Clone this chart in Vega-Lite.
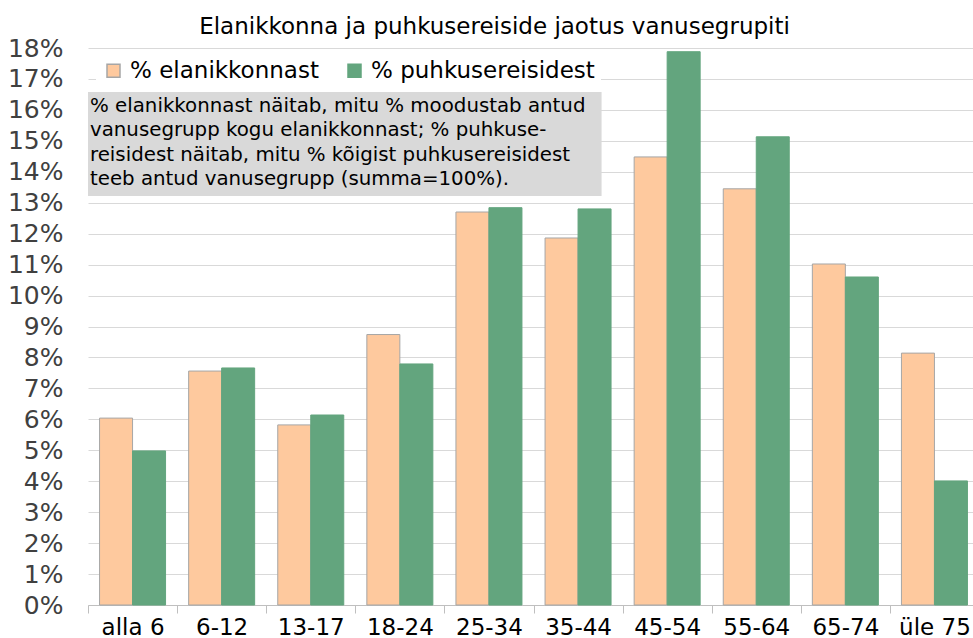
{
  "$schema": "https://vega.github.io/schema/vega-lite/v6.json",
  "autosize": {"type": "none"},
  "padding": {"left": 88, "top": 48, "right": 0, "bottom": 33},
  "width": 885,
  "height": 557,
  "background": "white",
  "config": {"view": {"stroke": null}, "font": "DejaVu Sans"},
  "title": {
    "text": "Elanikkonna ja puhkusereiside jaotus vanusegrupiti",
    "fontSize": 23,
    "fontWeight": "normal",
    "color": "#000000",
    "anchor": "middle",
    "frame": "group",
    "dx": -36,
    "offset": -3
  },
  "data": {
    "values": [
      {"group": "alla 6", "series": "% elanikkonnast", "value": 6.04},
      {"group": "alla 6", "series": "% puhkusereisidest", "value": 4.98},
      {"group": "6-12", "series": "% elanikkonnast", "value": 7.56},
      {"group": "6-12", "series": "% puhkusereisidest", "value": 7.66},
      {"group": "13-17", "series": "% elanikkonnast", "value": 5.82},
      {"group": "13-17", "series": "% puhkusereisidest", "value": 6.14},
      {"group": "18-24", "series": "% elanikkonnast", "value": 8.74},
      {"group": "18-24", "series": "% puhkusereisidest", "value": 7.79},
      {"group": "25-34", "series": "% elanikkonnast", "value": 12.70},
      {"group": "25-34", "series": "% puhkusereisidest", "value": 12.84},
      {"group": "35-44", "series": "% elanikkonnast", "value": 11.86},
      {"group": "35-44", "series": "% puhkusereisidest", "value": 12.80},
      {"group": "45-54", "series": "% elanikkonnast", "value": 14.48},
      {"group": "45-54", "series": "% puhkusereisidest", "value": 17.88},
      {"group": "55-64", "series": "% elanikkonnast", "value": 13.45},
      {"group": "55-64", "series": "% puhkusereisidest", "value": 15.13},
      {"group": "65-74", "series": "% elanikkonnast", "value": 11.02},
      {"group": "65-74", "series": "% puhkusereisidest", "value": 10.60},
      {"group": "üle 75", "series": "% elanikkonnast", "value": 8.14},
      {"group": "üle 75", "series": "% puhkusereisidest", "value": 4.01}
    ]
  },
  "encoding": {
    "x": {
      "field": "group",
      "type": "nominal",
      "sort": null,
      "scale": {"range": [0, 891], "paddingInner": 0, "paddingOuter": 0},
      "axis": {
        "title": null,
        "labelAngle": 0,
        "labelFontSize": 23,
        "labelColor": "#000000",
        "labelPadding": 3,
        "tickBand": "extent",
        "tickSize": 8,
        "tickColor": "#bfbfbf",
        "domainColor": "#bfbfbf",
        "grid": false
      }
    },
    "y": {
      "field": "value",
      "type": "quantitative",
      "scale": {"domain": [0, 18], "nice": false},
      "axis": {
        "title": null,
        "values": [0,1,2,3,4,5,6,7,8,9,10,11,12,13,14,15,16,17,18],
        "labelExpr": "datum.value + '%'",
        "labelFontSize": 25,
        "labelColor": "#404040",
        "labelPadding": 25,
        "ticks": false,
        "domain": false,
        "grid": true,
        "gridColor": "#d9d9d9",
        "labelFlush": false
      }
    }
  },
  "layer": [
    {
      "mark": {"type": "bar", "strokeWidth": 1},
      "encoding": {
        "xOffset": {
          "field": "series",
          "type": "nominal",
          "scale": {"paddingInner": 0, "paddingOuter": 0.35}
        },
        "fill": {
          "field": "series",
          "type": "nominal",
          "scale": {"domain": ["% elanikkonnast", "% puhkusereisidest"], "range": ["#fec99e", "#63a57e"]},
          "legend": {
            "title": null,
            "orient": "none",
            "legendX": 8,
            "legendY": 5,
            "direction": "horizontal",
            "columns": 2,
            "columnPadding": 24,
            "fillColor": "white",
            "padding": 6,
            "symbolType": "square",
            "symbolSize": 169,
            "symbolOpacity": 1,
            "labelFontSize": 23,
            "labelColor": "#000000",
            "labelOffset": 5,
            "labelLimit": 400
          }
        },
        "stroke": {
          "field": "series",
          "type": "nominal",
          "scale": {"domain": ["% elanikkonnast", "% puhkusereisidest"], "range": ["#a6a6a6", "#63a57e"]}
        }
      }
    },
    {
      "transform": [{"filter": "datum.group === 'alla 6' && datum.series === '% elanikkonnast'"}],
      "mark": {"type": "rect", "fill": "#d9d9d9", "strokeWidth": 0},
      "encoding": {
        "x": {"datum": "alla 6", "bandPosition": 0},
        "x2": {"datum": "35-44", "bandPosition": 0.764},
        "y": {"datum": 16.58},
        "y2": {"datum": 13.22}
      }
    },
    {
      "transform": [{"filter": "datum.group === 'alla 6' && datum.series === '% elanikkonnast'"}],
      "mark": {
        "type": "text",
        "text": [
          "% elanikkonnast näitab, mitu % moodustab antud",
          "vanusegrupp kogu elanikkonnast; % puhkuse-",
          "reisidest näitab, mitu % kõigist puhkusereisidest",
          "teeb antud vanusegrupp (summa=100%)."
        ],
        "align": "left",
        "baseline": "top",
        "fontSize": 19.8,
        "lineHeight": 24.3,
        "fill": "#000000",
        "dx": 2,
        "dy": 4
      },
      "encoding": {
        "x": {"datum": "alla 6", "bandPosition": 0},
        "y": {"datum": 16.58}
      }
    }
  ]
}
